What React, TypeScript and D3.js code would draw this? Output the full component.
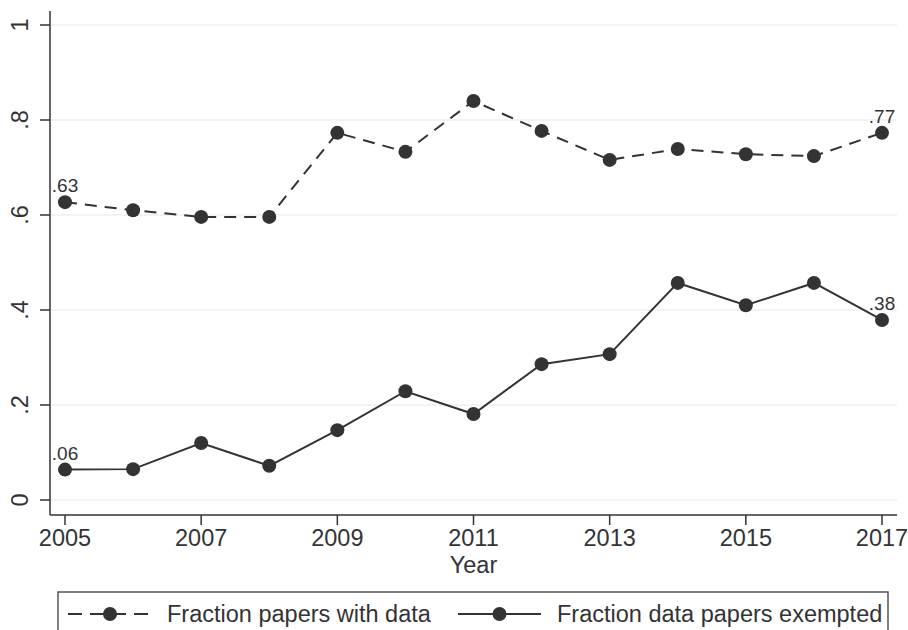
import * as d3 from "d3";
import { useEffect, useRef } from "react";

const years = [2005, 2006, 2007, 2008, 2009, 2010, 2011, 2012, 2013, 2014, 2015, 2016, 2017];
const withData = [0.627, 0.61, 0.596, 0.596, 0.773, 0.733, 0.84, 0.777, 0.716, 0.739, 0.728, 0.724, 0.773];
const exempted = [0.064, 0.065, 0.12, 0.072, 0.147, 0.229, 0.181, 0.286, 0.307, 0.457, 0.41, 0.457, 0.379];
const xTicks = [2005, 2007, 2009, 2011, 2013, 2015, 2017];
const yTicks = [0, 0.2, 0.4, 0.6, 0.8, 1];
const yTickLabels = ["0", ".2", ".4", ".6", ".8", "1"];
const legendLabels = ["Fraction papers with data", "Fraction data papers exempted"];

const ink = "#333336";
const font = "'Liberation Sans', Arial, sans-serif";
const fs = 23.5;

const App = () => {
    const ref = useRef<SVGSVGElement>(null);

    useEffect(() => {
        const svg = d3.select(ref.current);
        svg.selectChildren().remove();

        const width = 908;
        const height = 630;
        const left = 50, right = 897, top = 25, bottom = 500, axisY = 515;

        const x = d3.scaleLinear().domain([2005, 2017]).range([65, 882]);
        const y = d3.scaleLinear().domain([0, 1]).range([bottom, top]);

        svg.attr("viewBox", [0, 0, width, height]);
        svg.append("rect").attr("width", width).attr("height", height).attr("fill", "white");

        // gridlines
        svg.append("g")
            .selectAll("line")
            .data(yTicks)
            .join("line")
            .attr("x1", left + 1).attr("x2", right)
            .attr("y1", d => y(d)).attr("y2", d => y(d))
            .attr("stroke", "#efefef")
            .attr("stroke-width", 1.5);

        // y axis
        const yAxis = svg.append("g").attr("transform", `translate(${left},0)`);
        yAxis.append("line").attr("x1", 0).attr("x2", 0).attr("y1", top - 14).attr("y2", axisY)
            .attr("stroke", ink).attr("stroke-width", 1.5);
        yAxis.selectAll("line.tick")
            .data(yTicks)
            .join("line")
            .attr("class", "tick")
            .attr("x1", -10).attr("x2", 0)
            .attr("y1", d => y(d)).attr("y2", d => y(d))
            .attr("stroke", ink).attr("stroke-width", 1.5);
        yAxis.selectAll("text")
            .data(yTicks)
            .join("text")
            .attr("transform", d => `translate(-22,${y(d)}) rotate(-90)`)
            .attr("text-anchor", "middle")
            .attr("font-family", font)
            .attr("font-size", fs)
            .attr("fill", ink)
            .text((d, i) => yTickLabels[i]);

        // x axis
        const xAxis = svg.append("g").attr("transform", `translate(0,${axisY})`);
        xAxis.append("line").attr("x1", left).attr("x2", right).attr("y1", 0).attr("y2", 0)
            .attr("stroke", ink).attr("stroke-width", 1.5);
        xAxis.selectAll("line.tick")
            .data(xTicks)
            .join("line")
            .attr("class", "tick")
            .attr("x1", d => x(d)).attr("x2", d => x(d))
            .attr("y1", 0).attr("y2", 10)
            .attr("stroke", ink).attr("stroke-width", 1.5);
        xAxis.selectAll("text")
            .data(xTicks)
            .join("text")
            .attr("x", d => x(d))
            .attr("y", 31)
            .attr("text-anchor", "middle")
            .attr("font-family", font)
            .attr("font-size", fs)
            .attr("fill", ink)
            .text(d => d);
        svg.append("text")
            .attr("x", (left + right) / 2)
            .attr("y", 573)
            .attr("text-anchor", "middle")
            .attr("font-family", font)
            .attr("font-size", fs)
            .attr("fill", ink)
            .text("Year");

        const line = d3.line<number>()
            .x((d, i) => x(years[i]))
            .y(d => y(d));

        const series = [
            { values: withData, dash: "12,8" },
            { values: exempted, dash: null },
        ];

        series.forEach(s => {
            svg.append("path")
                .datum(s.values)
                .attr("fill", "none")
                .attr("stroke", ink)
                .attr("stroke-width", 2)
                .attr("stroke-dasharray", s.dash)
                .attr("d", line);
            svg.append("g")
                .selectAll("circle")
                .data(s.values)
                .join("circle")
                .attr("cx", (d, i) => x(years[i]))
                .attr("cy", d => y(d))
                .attr("r", 7)
                .attr("fill", ink);
            // labels on first and last points
            const n = s.values.length;
            svg.append("g")
                .selectAll("text")
                .data([0, n - 1])
                .join("text")
                .attr("x", i => x(years[i]))
                .attr("y", i => y(s.values[i]) - 10)
                .attr("text-anchor", "middle")
                .attr("font-family", font)
                .attr("font-size", 19)
                .attr("fill", ink)
                .text(i => d3.format(".2f")(s.values[i]).replace(/^0/, ""));
        });

        // legend
        const legend = svg.append("g");
        legend.append("rect")
            .attr("x", 58).attr("y", 592)
            .attr("width", 830).attr("height", 60)
            .attr("fill", "white")
            .attr("stroke", "#555")
            .attr("stroke-width", 1.5);
        const legendItems = [
            { x0: 68, x1: 152, label: legendLabels[0], dash: "14,8", tx: 167 },
            { x0: 458, x1: 541, label: legendLabels[1], dash: null, tx: 557 },
        ];
        legendItems.forEach(it => {
            const ly = 614;
            legend.append("line")
                .attr("x1", it.x0).attr("x2", it.x1)
                .attr("y1", ly).attr("y2", ly)
                .attr("stroke", ink)
                .attr("stroke-width", 2)
                .attr("stroke-dasharray", it.dash);
            legend.append("circle")
                .attr("cx", (it.x0 + it.x1) / 2).attr("cy", ly)
                .attr("r", 7).attr("fill", ink);
            legend.append("text")
                .attr("x", it.tx).attr("y", 622)
                .attr("font-family", font)
                .attr("font-size", fs)
                .attr("fill", ink)
                .text(it.label);
        });
    });

    return (
        <svg ref={ref} width={908} height={630}
            style={{ position: "absolute", left: 0, top: 0, display: "block" }} />
    );
};

export default App;
